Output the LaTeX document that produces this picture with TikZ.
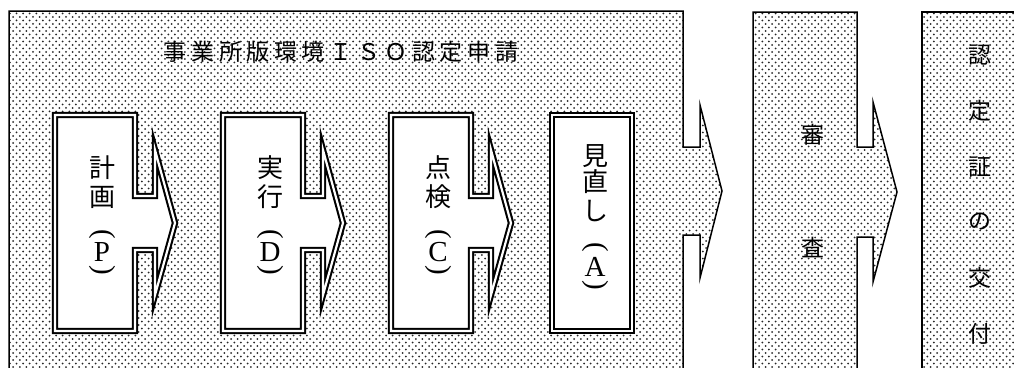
\documentclass[tikz,border=0pt]{standalone}
\usepackage{fontspec}
\setmainfont{Liberation Serif}
\newfontfamily\cjk{Noto Sans CJK JP}
\newfontfamily\titlefont{Noto Sans CJK JP}[LetterSpace=20]
\usetikzlibrary{patterns}
\pgfdeclarepatternformonly{paneldots}{\pgfpoint{-1.5pt}{-1.5pt}}{\pgfpoint{5pt}{5pt}}{\pgfpoint{6.6pt}{7pt}}{%
  \pgfpathcircle{\pgfpoint{0pt}{0pt}}{1.0pt}%
  \pgfpathcircle{\pgfpoint{3.3pt}{3.5pt}}{1.0pt}%
  \pgfusepath{fill}}
\tikzset{
  panel/.style={draw=black, line width=1.5pt, pattern=paneldots, pattern color=black!85, miter limit=10},
  dbl/.style={draw=black, line width=2.1pt, double=white, double distance=2.2pt, fill=white, miter limit=14},
  boxkanji/.style={font=\cjk\fontsize{26}{26}\selectfont, inner sep=0pt},
  panelkanji/.style={font=\cjk\fontsize{23}{23}\selectfont, inner sep=0pt},
  latin/.style={font=\fontsize{29}{29}\selectfont, inner sep=0pt},
  pics/pdcaarrow/.style={code={
    \draw[dbl] (0,0) -- (80,0) -- (80,81) -- (100,81) -- (100,35) -- (120,108)
      -- (100,180) -- (100,135) -- (80,135) -- (80,216) -- (0,216) -- cycle;
  }},
}
\begin{document}
\begin{tikzpicture}[x=1pt,y=-1pt]
\clip (0,0) rectangle (1014,367);
\fill[white] (0,0) rectangle (1014,367);
% panels
\path[panel] (9,395) -- (9,11) -- (683,11) -- (683,147) -- (700,147) -- (700,105)
  -- (722,191) -- (700,278) -- (700,235) -- (683,235) -- (683,395);
\path[panel] (753,395) -- (753,12) -- (857,12) -- (857,147) -- (873,147) -- (873,102)
  -- (897,192) -- (873,282) -- (873,237) -- (857,237) -- (857,395);
\path[panel] (922,395) -- (922,12) -- (1030,12) -- (1030,395);
% title
\node[font=\titlefont\fontsize{23}{23}\selectfont, inner sep=0pt] (title) at (341,52) {事業所版環境ＩＳＯ認定申請};
% PDCA boxes
\pic at (55,115) {pdcaarrow};
\pic at (223,115) {pdcaarrow};
\pic at (391,115) {pdcaarrow};
\draw[dbl] (552,115) rectangle (632,331);
% box texts
\node[boxkanji] (p1) at (102,168) {計};
\node[boxkanji] (p2) at (102,197) {画};
\node[latin, rotate=-90] (p3) at (102,234) {(};
\node[latin] (p4) at (102,252) {P};
\node[latin, rotate=-90] (p5) at (102,270) {)};
\node[boxkanji] (d1) at (270,168) {実};
\node[boxkanji] (d2) at (270,197) {行};
\node[latin, rotate=-90] (d3) at (270,234) {(};
\node[latin] (d4) at (270,252) {D};
\node[latin, rotate=-90] (d5) at (270,270) {)};
\node[boxkanji] (c1) at (438,168) {点};
\node[boxkanji] (c2) at (438,197) {検};
\node[latin, rotate=-90] (c3) at (438,234) {(};
\node[latin] (c4) at (438,252) {C};
\node[latin, rotate=-90] (c5) at (438,270) {)};
\node[boxkanji] (a1) at (595,156) {見};
\node[boxkanji] (a2) at (595,182) {直};
\node[boxkanji] (a3) at (595,211) {し};
\node[latin, rotate=-90] (a4) at (595,247) {(};
\node[latin] (a5) at (595,267) {A};
\node[latin, rotate=-90] (a6) at (595,285) {)};
% panel texts
\node[panelkanji] (s1) at (813,135) {審};
\node[panelkanji] (s2) at (813,248) {査};
\node[panelkanji] (n1) at (980,55) {認};
\node[panelkanji] (n2) at (980,111) {定};
\node[panelkanji] (n3) at (980,167) {証};
\node[panelkanji] (n4) at (980,222) {の};
\node[panelkanji] (n5) at (980,278) {交};
\node[panelkanji] (n6) at (980,334) {付};
\end{tikzpicture}
\end{document}
